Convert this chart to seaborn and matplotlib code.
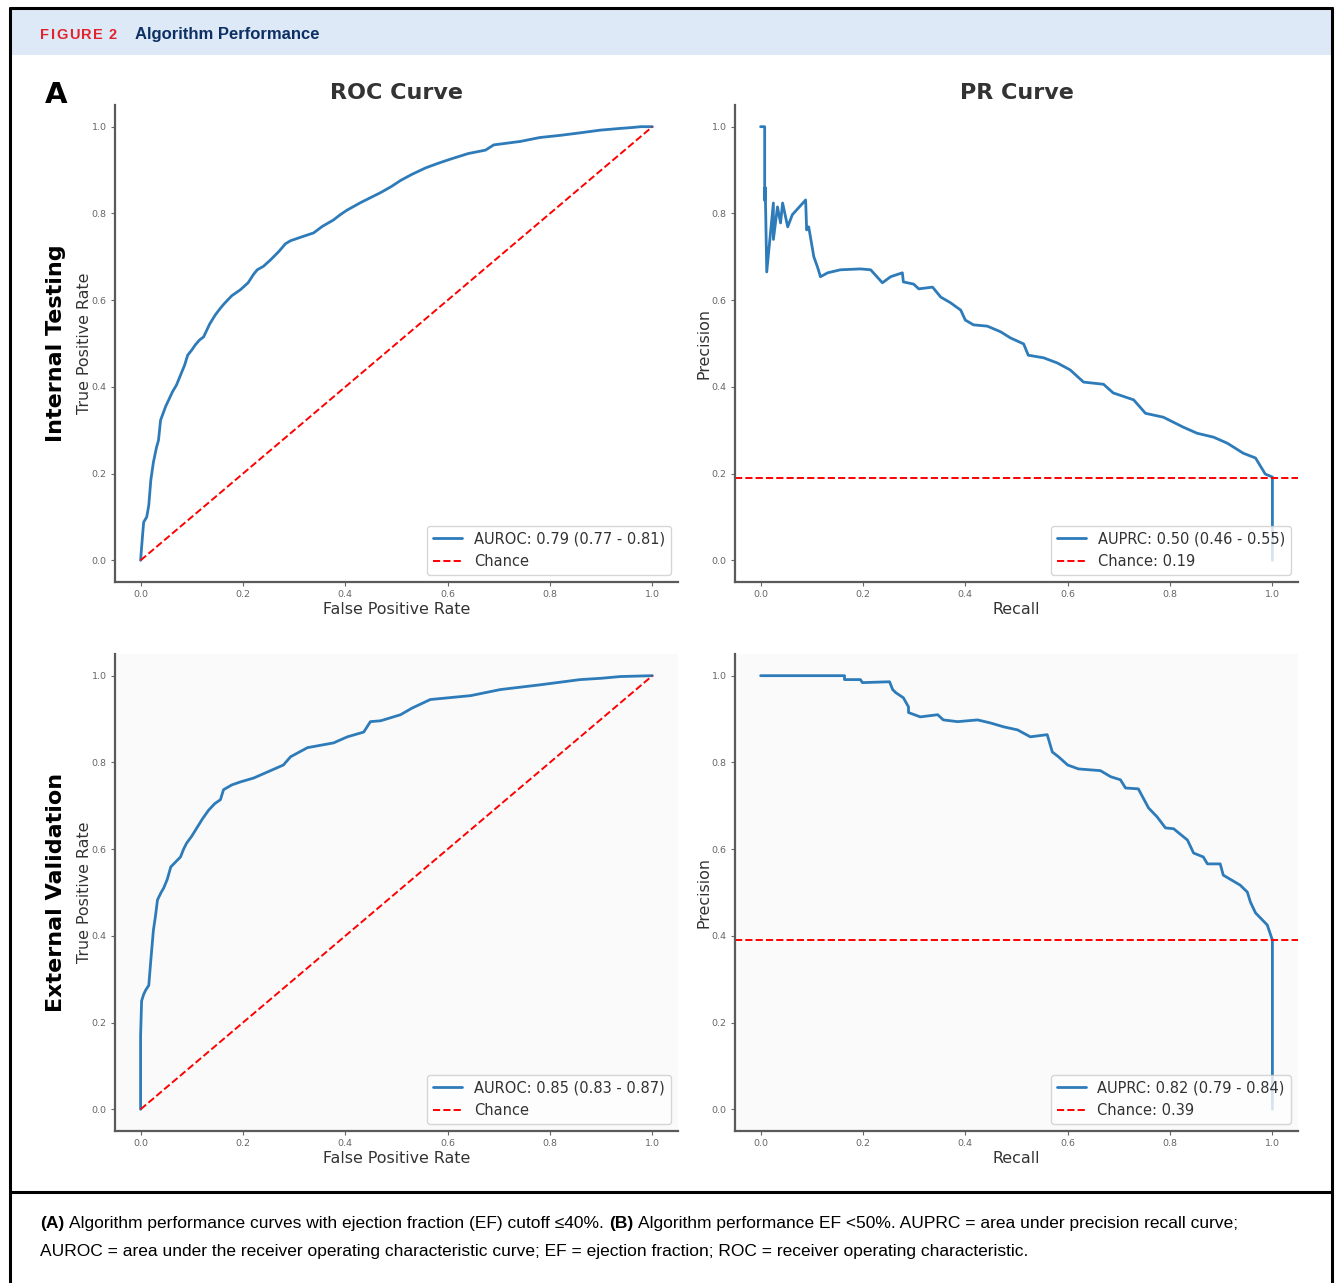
import matplotlib
matplotlib.use("Agg")
import matplotlib.pyplot as plt
import seaborn as sns
from matplotlib.patches import Rectangle
from matplotlib.lines import Line2D

# ---------------- data ----------------
# ROC curve, internal testing
roc_int_fpr = [0.0, 0.004, 0.006, 0.012, 0.016, 0.020, 0.025, 0.031, 0.035, 0.039, 0.049,
               0.055, 0.062, 0.070, 0.078, 0.086, 0.092, 0.100, 0.107, 0.115, 0.123,
               0.135, 0.146, 0.155, 0.162, 0.178, 0.195, 0.210, 0.221, 0.228, 0.240,
               0.254, 0.270, 0.283, 0.293, 0.315, 0.338, 0.355, 0.377, 0.390, 0.404,
               0.430, 0.469, 0.490, 0.508, 0.530, 0.557, 0.580, 0.605, 0.640, 0.674,
               0.690, 0.742, 0.780, 0.820, 0.860, 0.898, 0.937, 0.960, 0.977, 1.0]
roc_int_tpr = [0.0, 0.06, 0.088, 0.100, 0.127, 0.185, 0.226, 0.260, 0.277, 0.323, 0.355,
               0.370, 0.388, 0.404, 0.427, 0.450, 0.473, 0.485, 0.497, 0.508, 0.515,
               0.545, 0.566, 0.580, 0.590, 0.610, 0.624, 0.640, 0.660, 0.670, 0.678,
               0.693, 0.712, 0.730, 0.737, 0.746, 0.755, 0.770, 0.785, 0.797, 0.808,
               0.825, 0.848, 0.862, 0.876, 0.890, 0.905, 0.915, 0.925, 0.938, 0.946,
               0.958, 0.966, 0.975, 0.980, 0.986, 0.992, 0.996, 0.998, 1.0, 1.0]

# ROC curve, external validation
roc_ext_fpr = [0.0, 0.0, 0.002, 0.006, 0.010, 0.016, 0.020, 0.025, 0.029, 0.033, 0.040,
               0.045, 0.052, 0.059, 0.078, 0.084, 0.090, 0.100, 0.111, 0.121, 0.133,
               0.145, 0.156, 0.162, 0.178, 0.195, 0.221, 0.248, 0.279, 0.293, 0.326,
               0.377, 0.404, 0.436, 0.449, 0.469, 0.508, 0.530, 0.566, 0.645, 0.703,
               0.781, 0.859, 0.900, 0.937, 1.0]
roc_ext_tpr = [0.0, 0.17, 0.25, 0.265, 0.275, 0.286, 0.344, 0.413, 0.445, 0.483, 0.500,
               0.510, 0.530, 0.559, 0.582, 0.600, 0.614, 0.630, 0.651, 0.670, 0.690,
               0.705, 0.714, 0.737, 0.748, 0.755, 0.764, 0.778, 0.794, 0.813, 0.834,
               0.845, 0.859, 0.870, 0.894, 0.896, 0.910, 0.925, 0.945, 0.954, 0.968,
               0.979, 0.991, 0.994, 0.998, 1.0]

# Precision-recall curve, internal testing
pr_int_recall = [0.0, 0.008, 0.008, 0.009, 0.010, 0.012, 0.025, 0.025, 0.033, 0.039,
                 0.043, 0.053, 0.062, 0.088, 0.090, 0.094, 0.104, 0.111, 0.117, 0.131,
                 0.156, 0.195, 0.215, 0.238, 0.254, 0.277, 0.279, 0.299, 0.309, 0.336,
                 0.352, 0.371, 0.391, 0.400, 0.416, 0.443, 0.469, 0.488, 0.514, 0.523,
                 0.553, 0.580, 0.605, 0.631, 0.670, 0.689, 0.729, 0.752, 0.787, 0.826,
                 0.853, 0.885, 0.912, 0.943, 0.967, 0.986, 1.0, 1.0]
pr_int_precision = [1.0, 1.0, 0.830, 0.860, 0.800, 0.665, 0.824, 0.740, 0.815, 0.778,
                    0.824, 0.769, 0.797, 0.831, 0.762, 0.769, 0.700, 0.677, 0.654, 0.663,
                    0.670, 0.672, 0.670, 0.640, 0.654, 0.663, 0.642, 0.637, 0.626, 0.630,
                    0.607, 0.594, 0.577, 0.554, 0.543, 0.540, 0.527, 0.513, 0.499, 0.473,
                    0.467, 0.455, 0.439, 0.411, 0.406, 0.386, 0.370, 0.339, 0.330, 0.307,
                    0.293, 0.284, 0.270, 0.247, 0.236, 0.199, 0.192, 0.0]

# Precision-recall curve, external validation
pr_ext_recall = [0.0, 0.164, 0.164, 0.195, 0.199, 0.252, 0.258, 0.264, 0.279, 0.289,
                 0.289, 0.312, 0.346, 0.357, 0.385, 0.424, 0.449, 0.475, 0.502, 0.527,
                 0.560, 0.570, 0.582, 0.600, 0.621, 0.664, 0.684, 0.703, 0.713, 0.738,
                 0.758, 0.775, 0.791, 0.807, 0.834, 0.846, 0.865, 0.873, 0.898, 0.904,
                 0.937, 0.951, 0.957, 0.967, 0.990, 1.0, 1.0]
pr_ext_precision = [1.0, 1.0, 0.991, 0.991, 0.984, 0.986, 0.968, 0.961, 0.949, 0.928,
                    0.915, 0.905, 0.910, 0.898, 0.894, 0.898, 0.891, 0.882, 0.875, 0.859,
                    0.864, 0.824, 0.813, 0.794, 0.785, 0.781, 0.767, 0.760, 0.741, 0.739,
                    0.695, 0.674, 0.649, 0.647, 0.621, 0.591, 0.582, 0.566, 0.566, 0.540,
                    0.517, 0.501, 0.478, 0.453, 0.425, 0.390, 0.0]

chance_int = 0.19
chance_ext = 0.39

auroc_int_label = "AUROC: 0.79 (0.77 - 0.81)"
auroc_ext_label = "AUROC: 0.85 (0.83 - 0.87)"
auprc_int_label = "AUPRC: 0.50 (0.46 - 0.55)"
auprc_ext_label = "AUPRC: 0.82 (0.79 - 0.84)"

row_labels = ["Internal Testing", "External Validation"]
col_titles = ["ROC Curve", "PR Curve"]
tick_values = [0.0, 0.2, 0.4, 0.6, 0.8, 1.0]
tick_labels = ["0.0", "0.2", "0.4", "0.6", "0.8", "1.0"]

caption_line1 = [("(A)", "bold"),
                 ("Algorithm performance curves with ejection fraction (EF) cutoff \u226440%.", "normal"),
                 ("(B)", "bold"),
                 ("Algorithm performance EF <50%. AUPRC = area under precision recall curve;", "normal")]
caption_line2 = [("AUROC = area under the receiver operating characteristic curve; "
                  "EF = ejection fraction; ROC = receiver operating characteristic.", "normal")]

# ---------------- figure ----------------
sns.set_style("ticks")
plt.rcParams["font.family"] = ["DejaVu Sans"]

W, H = 1337, 1283
fig = plt.figure(figsize=(W / 100, H / 100), dpi=100)
fig.patch.set_facecolor("white")

CURVE = "#2e7bb9"
SPINE = "#5a5a5a"


def px_axes(l, t, r, b):
    return fig.add_axes([l / W, 1 - b / H, (r - l) / W, (b - t) / H])


def style_axes(ax, face):
    ax.set_facecolor(face)
    ax.set_xlim(-0.05, 1.05)
    ax.set_ylim(-0.05, 1.05)
    ax.set_xticks(tick_values)
    ax.set_xticklabels(tick_labels)
    ax.set_yticks(tick_values)
    ax.set_yticklabels(tick_labels)
    ax.tick_params(labelsize=6.8, colors="#666666", length=3, width=0.8, pad=3)
    sns.despine(ax=ax)
    for s in ("left", "bottom"):
        ax.spines[s].set_color(SPINE)
        ax.spines[s].set_linewidth(1.6)


def finish_legend(ax):
    ax.legend(loc="lower right", fontsize=10.5, framealpha=0.8,
              labelcolor="#333333", handlelength=2.0)


boxes = {
    (0, 0): (115, 105, 678, 582),
    (0, 1): (735, 105, 1298, 582),
    (1, 0): (115, 654, 678, 1131),
    (1, 1): (735, 654, 1298, 1131),
}
faces = ["white", "#fafafa"]

roc_data = [(roc_int_fpr, roc_int_tpr, auroc_int_label),
            (roc_ext_fpr, roc_ext_tpr, auroc_ext_label)]
pr_data = [(pr_int_recall, pr_int_precision, auprc_int_label, chance_int),
           (pr_ext_recall, pr_ext_precision, auprc_ext_label, chance_ext)]

for row in range(2):
    # ROC panel
    ax = px_axes(*boxes[(row, 0)])
    style_axes(ax, faces[row])
    fpr, tpr, lab = roc_data[row]
    sns.lineplot(x=fpr, y=tpr, sort=False, estimator=None, color=CURVE,
                 linewidth=2.0, label=lab, ax=ax)
    sns.lineplot(x=[0, 1], y=[0, 1], sort=False, estimator=None, color="red",
                 linewidth=1.4, linestyle="--", label="Chance", ax=ax)
    ax.set_xlabel("False Positive Rate", fontsize=11.4, color="#333333", labelpad=2)
    ax.set_ylabel("True Positive Rate", fontsize=11.4, color="#333333", labelpad=0)
    finish_legend(ax)
    if row == 0:
        ax.set_title(col_titles[0], fontsize=16, fontweight="bold", color="#333333", pad=4)

    # PR panel
    ax = px_axes(*boxes[(row, 1)])
    style_axes(ax, faces[row])
    rec, prec, lab, ch = pr_data[row]
    sns.lineplot(x=rec, y=prec, sort=False, estimator=None, color=CURVE,
                 linewidth=2.0, label=lab, ax=ax)
    ax.axhline(ch, color="red", linewidth=1.4, linestyle="--",
               label=f"Chance: {ch:.2f}")
    ax.set_xlabel("Recall", fontsize=11.4, color="#333333", labelpad=2)
    ax.set_ylabel("Precision", fontsize=11.4, color="#333333", labelpad=0)
    finish_legend(ax)
    if row == 0:
        ax.set_title(col_titles[1], fontsize=16, fontweight="bold", color="#333333", pad=4)

# row labels and panel letter
for row, (l, t, r, b) in enumerate([boxes[(0, 0)], boxes[(1, 0)]]):
    fig.text(56 / W, 1 - (t + b) / 2 / H, row_labels[row], rotation=90,
             fontsize=16, fontweight="bold", color="black", ha="center", va="center")
fig.text(56 / W, 1 - 95 / H, "A", fontsize=21, fontweight="bold",
         color="black", ha="center", va="center")

# ---------------- frame, header band, caption ----------------
fig.patches.append(Rectangle((10 / W, 1 - 55 / H), (1332 - 10) / W, (55 - 9) / H,
                             transform=fig.transFigure, facecolor="#dde9f6",
                             edgecolor="none", zorder=0))
frame_kw = dict(transform=fig.transFigure, color="black", linewidth=2.2, zorder=5)
fig.lines.append(Line2D([10 / W, 10 / W], [0, 1 - 8 / H], **frame_kw))
fig.lines.append(Line2D([1332 / W, 1332 / W], [0, 1 - 8 / H], **frame_kw))
fig.lines.append(Line2D([10 / W, 1332 / W], [1 - 8 / H, 1 - 8 / H], **frame_kw))
fig.lines.append(Line2D([10 / W, 1332 / W], [1 - 1192 / H, 1 - 1192 / H], **frame_kw))

renderer = fig.canvas.get_renderer()


def text_width(t):
    return t.get_window_extent(renderer=renderer).width


def draw_runs(x_px, y_px, runs, size, family, gap_px=None):
    x = x_px
    for s, weight, col in runs:
        t = fig.text(x / W, 1 - y_px / H, s, fontsize=size, fontweight=weight,
                     family=family, color=col, ha="left", va="baseline")
        x += text_width(t)
        if gap_px is None:
            a = fig.text(0, 0, "x x", fontsize=size, family=family)
            b = fig.text(0, 0, "xx", fontsize=size, family=family)
            sp = text_width(a) - text_width(b)
            a.remove()
            b.remove()
            x += sp
        else:
            x += gap_px
    return x


HFAM = ["Liberation Sans", "DejaVu Sans"]
# spaced-out red figure number
x_end = draw_runs(40, 39, [(c, "bold", "#e3232b") for c in "FIGURE"], 10.5, HFAM, gap_px=1.6)
draw_runs(x_end + 4, 39, [("2", "bold", "#e3232b")], 10.5, HFAM, gap_px=0)
draw_runs(135, 39, [("Algorithm Performance", "bold", "#0d2f63")], 12, HFAM, gap_px=0)

CFAM = ["Liberation Sans", "DejaVu Sans"]
draw_runs(40, 1228, [(s, w, "black") for s, w in caption_line1], 12.5, CFAM)
draw_runs(40, 1256, [(s, w, "black") for s, w in caption_line2], 12.5, CFAM)

fig.savefig("out.png", dpi=100)
